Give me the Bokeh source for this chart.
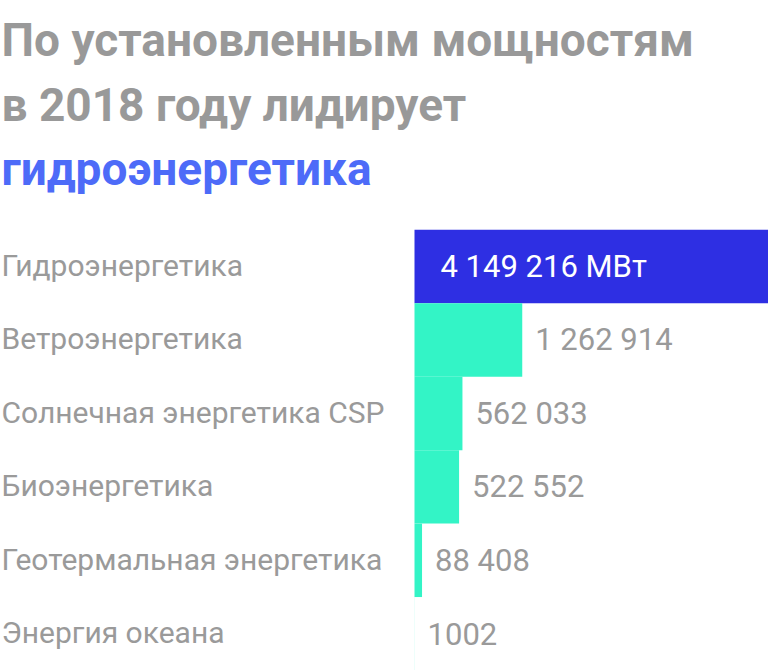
from bokeh.plotting import figure
from bokeh.models import Range1d, ColumnDataSource
from bokeh.core.properties import value
from bokeh.embed import file_html
from bokeh.resources import INLINE

# ---- data ----
title_lines = ["По установленным мощностям", "в 2018 году лидирует", "гидроэнергетика"]
title_colors = ["#999999", "#999999", "#4d6bf8"]
categories = ["Гидроэнергетика", "Ветроэнергетика", "Солнечная энергетика CSP",
              "Биоэнергетика", "Геотермальная энергетика", "Энергия океана"]
values = [4149216, 1262914, 562033, 522552, 88408, 1002]
value_labels = ["4 149 216 МВт", "1 262 914", "562 033", "522 552", "88 408", "1002"]
bar_colors = ["#2e2fe3", "#33f4c6", "#33f4c6", "#33f4c6", "#33f4c6", "#33f4c6"]

# ---- layout ----
W, H = 768, 670
bar_left_px = 414
band = 73.45
band_top_px = 229.3
k = max(values) / (W - bar_left_px)
x_start = -bar_left_px * k
y_top = -0.5 - band_top_px / band
y_bottom = y_top + H / band

p = figure(width=W, height=H, output_backend="svg", toolbar_location=None,
           x_range=Range1d(x_start, max(values)), y_range=Range1d(y_bottom, y_top),
           min_border=0, outline_line_color=None, background_fill_color="white",
           border_fill_color="white")
p.axis.visible = False
p.grid.visible = False

idx = list(range(len(categories)))
src = ColumnDataSource(dict(y=idx, v=values, c=bar_colors, cat=categories,
                            lab=value_labels, zero=[0] * len(values)))

p.hbar(y="y", left="zero", right="v", height=1.0, fill_color="c",
       line_color=None, source=src)

# category labels at left
p.text(x=x_start, y="y", text="cat", source=src, text_font=value("Roboto"),
       text_font_size="30px", text_color="#9a9a9a", text_baseline="alphabetic",
       text_align="left", x_offset=1, y_offset=-1)

# value labels
first = ColumnDataSource(dict(y=idx[:1], v=values[:1], lab=value_labels[:1], zero=[0]))
rest = ColumnDataSource(dict(y=idx[1:], v=values[1:], lab=value_labels[1:]))
p.text(x="zero", y="y", text="lab", source=first, text_font=value("Roboto"),
       text_font_size="31px", text_color="white", text_baseline="alphabetic",
       text_align="left", x_offset=26, y_offset=0)
p.text(x="v", y="y", text="lab", source=rest, text_font=value("Roboto"),
       text_font_size="31px", text_color="#9a9a9a", text_baseline="alphabetic",
       text_align="left", x_offset=13, y_offset=0)

# title (three lines)
title_baselines_px = [52.3, 116.7, 181.0]
tsrc = ColumnDataSource(dict(
    x=[x_start] * 3,
    y=[y_top + b / band for b in title_baselines_px],
    t=title_lines, c=title_colors))
p.text(x="x", y="y", text="t", text_color="c", source=tsrc, text_font=value("Roboto"),
       text_font_style="bold", text_font_size="46px", text_baseline="alphabetic",
       text_align="left", x_offset=1, y_offset=-12.5)

open("out.html", "w").write(file_html(p, INLINE))
